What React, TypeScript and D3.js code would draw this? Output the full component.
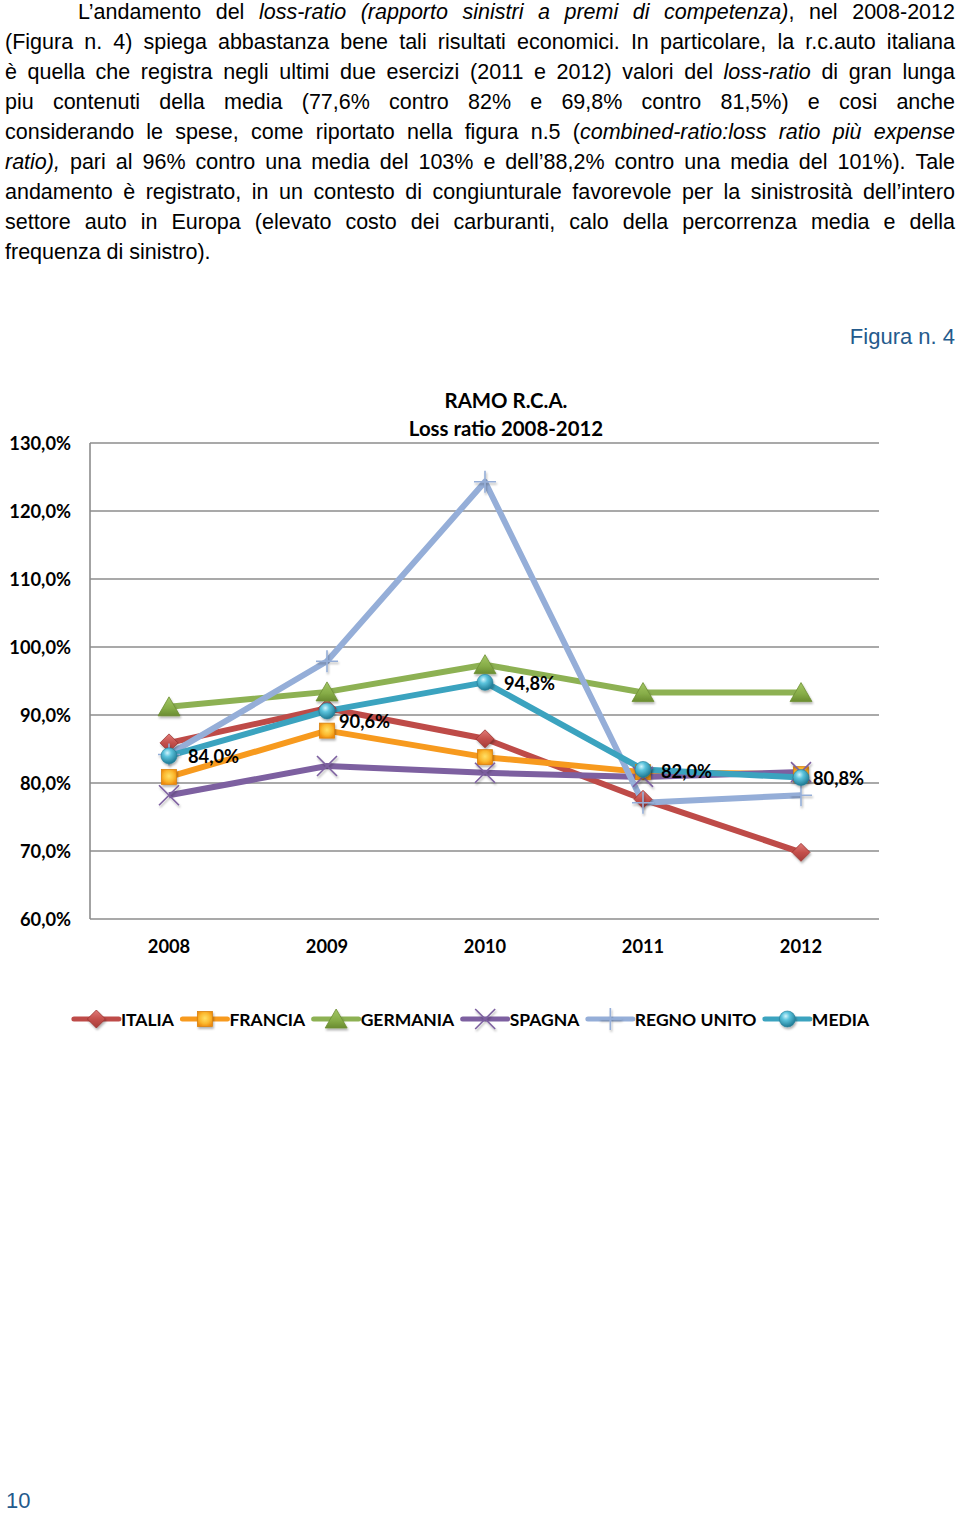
import React, { useMemo } from 'react';
import * as d3 from 'd3';

// ---------- DATA ----------
const years = ['2008', '2009', '2010', '2011', '2012'];
const italia = [0.859, 0.910, 0.865, 0.776, 0.698];
const francia = [0.809, 0.877, 0.838, 0.816, 0.813];
const germania = [0.912, 0.934, 0.974, 0.933, 0.933];
const spagna = [0.782, 0.825, 0.815, 0.809, 0.816];
const regnoUnito = [0.842, 0.979, 1.243, 0.771, 0.782];
const media = [0.840, 0.906, 0.948, 0.820, 0.808];
const mediaLabels = ['84,0%', '90,6%', '94,8%', '82,0%', '80,8%'];
const seriesNames = ['ITALIA', 'FRANCIA', 'GERMANIA', 'SPAGNA', 'REGNO UNITO', 'MEDIA'];
const yTicks = [0.6, 0.7, 0.8, 0.9, 1.0, 1.1, 1.2, 1.3];
const yTickLabels = ['60,0%', '70,0%', '80,0%', '90,0%', '100,0%', '110,0%', '120,0%', '130,0%'];
const titleLines = ['RAMO R.C.A.', 'Loss ratio 2008-2012'];
const figureLabel = 'Figura n. 4';
const pageNumber = '10';

// paragraph: segments [text, italic]
const paragraph: [string, boolean][][] = [
  [['L’andamento del ', false], ['loss-ratio (rapporto sinistri a premi di competenza)', true], [', nel 2008-2012', false]],
  [['(Figura n. 4) spiega abbastanza bene tali risultati economici. In particolare, la r.c.auto italiana', false]],
  [['è quella che registra negli ultimi due esercizi (2011 e 2012) valori del ', false], ['loss-ratio', true], [' di gran lunga', false]],
  [['piu contenuti della media (77,6% contro 82% e 69,8% contro 81,5%) e cosi anche', false]],
  [['considerando le spese, come riportato nella figura n.5 (', false], ['combined-ratio:loss ratio più expense', true]],
  [['ratio),', true], [' pari al 96% contro una media del 103% e dell’88,2% contro una media del 101%). Tale', false]],
  [['andamento è registrato, in un contesto di congiunturale favorevole per la sinistrosità dell’intero', false]],
  [['settore auto in Europa (elevato costo dei carburanti, calo della percorrenza media e della', false]],
  [['frequenza di sinistro).', false]],
];

const seriesValues = [italia, francia, germania, spagna, regnoUnito, media];

// ---------- STYLE ----------
const colors = ['#BE4B48', '#F79A1E', '#8DB153', '#7D60A0', '#95AED8', '#3BA3BF'];
const markers = ['diamond', 'square', 'triangle', 'x', 'plus', 'circle'];
const PFONT = "'Liberation Sans Narrow', 'Liberation Sans', Arial, sans-serif";
const PSIZE = 21.5;
const CFONT = "Lato, 'Open Sans', sans-serif";
const CSIZE = 18.3;

type Piece = { text: string; italic: boolean; x: number; w: number; nat: number };

function layoutParagraph() {
  const canvas = document.createElement('canvas');
  const ctx = canvas.getContext('2d')!;
  const measure = (t: string, italic: boolean) => {
    ctx.font = `${italic ? 'italic ' : ''}${PSIZE}px ${PFONT}`;
    return ctx.measureText(t).width;
  };
  const right = 955;
  const lines = paragraph.map((segs, i) => {
    const words: { text: string; italic: boolean }[][] = [];
    let cur: { text: string; italic: boolean }[] = [];
    segs.forEach(([t, it]) => {
      let buf = '';
      for (const ch of t) {
        if (ch === ' ') {
          if (buf) cur.push({ text: buf, italic: it });
          buf = '';
          if (cur.length) words.push(cur);
          cur = [];
        } else buf += ch;
      }
      if (buf) cur.push({ text: buf, italic: it });
    });
    if (cur.length) words.push(cur);
    const x0 = i === 0 ? 78 : 5;
    const widths = words.map((w) => w.reduce((s, p) => s + measure(p.text, p.italic), 0));
    return { words, widths, x0, justify: i < paragraph.length - 1 };
  });
  const space = measure(' ', false);
  let k = 1;
  lines.forEach((l) => {
    if (!l.justify) return;
    const nat = l.widths.reduce((a, b) => a + b, 0) + space * (l.words.length - 1);
    k = Math.min(k, (right - l.x0) / nat);
  });
  return lines.map((l, i) => {
    const total = l.widths.reduce((a, b) => a + b, 0) * k;
    const gap = l.justify ? (right - l.x0 - total) / (l.words.length - 1) : space * k;
    let x = l.x0;
    const pieces: Piece[] = [];
    l.words.forEach((w, wi) => {
      let px = x;
      w.forEach((p) => {
        const nat = measure(p.text, p.italic);
        pieces.push({ text: p.text, italic: p.italic, x: px, w: nat * k, nat });
        px += nat * k;
      });
      x += l.widths[wi] * k + gap;
    });
    return { pieces, y: 19.3 + 29.9 * i, k };
  });
}

function measureBold(t: string, size: number) {
  const ctx = document.createElement('canvas').getContext('2d')!;
  ctx.font = `bold ${size}px ${CFONT}`;
  return ctx.measureText(t).width;
}

function Marker({ type, x, y, color }: { type: string; x: number; y: number; color: string }) {
  const f = 'url(#shadow)';
  switch (type) {
    case 'diamond':
      return <path d={`M${x},${y - 9}L${x + 9},${y}L${x},${y + 9}L${x - 9},${y}Z`} fill="url(#gDiamond)" stroke="#9A3431" strokeWidth={0.8} filter={f} />;
    case 'square':
      return <rect x={x - 7.5} y={y - 7.5} width={15} height={15} fill="url(#gSquare)" stroke="#D98310" strokeWidth={0.8} filter={f} />;
    case 'triangle':
      return <path d={`M${x},${y - 10}L${x + 11},${y + 9}L${x - 11},${y + 9}Z`} fill="url(#gTriangle)" stroke="#6E8F35" strokeWidth={0.8} filter={f} />;
    case 'x':
      return <path d={`M${x - 10},${y - 10}L${x + 10},${y + 10}M${x - 10},${y + 10}L${x + 10},${y - 10}`} stroke={color} strokeWidth={1.6} filter={f} />;
    case 'plus':
      return <path d={`M${x - 11},${y}L${x + 11},${y}M${x},${y - 11}L${x},${y + 11}`} stroke={color} strokeWidth={1.6} filter={f} />;
    default:
      return <circle cx={x} cy={y} r={8} fill="url(#gCircle)" stroke="#247E98" strokeWidth={0.6} filter={f} />;
  }
}

export default function App() {
  const lines = useMemo(() => layoutParagraph(), []);

  const x = d3.scaleBand<string>().domain(years).range([90, 880]);
  const cx = (yr: string) => (x(yr) as number) + x.bandwidth() / 2;
  const y = d3.scaleLinear().domain([0.6, 1.3]).range([919, 443]);
  const line = d3
    .line<number>()
    .x((_, i) => cx(years[i]))
    .y((d) => y(d));

  // legend layout
  const legendFont = 17.5;
  const segLen = 45;
  const textGap = 2;
  const itemGap = 8.5;
  const tw = seriesNames.map((n) => measureBold(n, legendFont));
  const totalW = tw.reduce((s, w) => s + segLen + textGap + w, 0) + itemGap * (seriesNames.length - 1);
  let lx = 471.5 - totalW / 2;
  const legendItems = seriesNames.map((n, i) => {
    const item = { name: n, x: lx, tw: tw[i] };
    lx += segLen + textGap + tw[i] + itemGap;
    return item;
  });
  const legendY = 1019;

  const labelOffsets = [
    [19, 1],
    [12, 10],
    [19, 1],
    [18, 2],
    [12, 1],
  ];

  return (
    <svg width={960} height={1514} style={{ position: 'absolute', left: 0, top: 0, background: '#fff' }}>
      <defs>
        <filter id="shadow" x="-50%" y="-50%" width="200%" height="200%">
          <feDropShadow dx="1" dy="2" stdDeviation="1.2" floodColor="#000" floodOpacity="0.3" />
        </filter>
        <linearGradient id="gDiamond" x1="0" y1="0" x2="0" y2="1">
          <stop offset="0" stopColor="#E07B78" />
          <stop offset="0.5" stopColor="#C4504C" />
          <stop offset="1" stopColor="#A63C39" />
        </linearGradient>
        <radialGradient id="gSquare" cx="0.5" cy="0.45" r="0.6">
          <stop offset="0" stopColor="#FFE066" />
          <stop offset="0.6" stopColor="#FBB82E" />
          <stop offset="1" stopColor="#EE8A0E" />
        </radialGradient>
        <linearGradient id="gTriangle" x1="0" y1="0" x2="0" y2="1">
          <stop offset="0" stopColor="#A3C765" />
          <stop offset="0.6" stopColor="#86AC47" />
          <stop offset="1" stopColor="#6A8C30" />
        </linearGradient>
        <radialGradient id="gCircle" cx="0.4" cy="0.32" r="0.7">
          <stop offset="0" stopColor="#D2F4FC" />
          <stop offset="0.35" stopColor="#5CC4DD" />
          <stop offset="1" stopColor="#1C7791" />
        </radialGradient>
      </defs>

      {/* paragraph */}
      <g fontFamily={PFONT} fontSize={PSIZE} fill="#000">
        {lines.map((l, i) =>
          l.pieces.map((p, j) => (
            <text
              key={`${i}-${j}`}
              x={p.x}
              y={l.y}
              fontStyle={p.italic ? 'italic' : 'normal'}
              {...(l.k < 0.999 ? { textLength: p.w, lengthAdjust: 'spacingAndGlyphs' } : {})}
            >
              {p.text}
            </text>
          ))
        )}
      </g>

      <text x={955} y={344} textAnchor="end" fontFamily="'Liberation Sans', Arial, sans-serif" fontSize={22} fill="#245A8C">
        {figureLabel}
      </text>

      {/* chart */}
      <g fontFamily={CFONT} fontWeight="bold" fill="#000">
        {yTicks.map((t, i) => (
          <g key={t}>
            <line x1={90} x2={879} y1={y(t)} y2={y(t)} stroke="#8C8C8C" strokeWidth={1.6} />
            <text x={71} y={y(t) + 6.6} textAnchor="end" fontSize={CSIZE}>
              {yTickLabels[i]}
            </text>
          </g>
        ))}
        <line x1={90} x2={90} y1={y(1.3)} y2={y(0.6)} stroke="#8C8C8C" strokeWidth={1.6} />
        {years.map((yr) => (
          <text key={yr} x={cx(yr)} y={952.8} textAnchor="middle" fontSize={CSIZE}>
            {yr}
          </text>
        ))}
        <text x={506} y={408} textAnchor="middle" fontSize={20.4}>
          {titleLines[0]}
        </text>
        <text x={506} y={436} textAnchor="middle" fontSize={20.4}>
          {titleLines[1]}
        </text>

        {seriesValues.map((vals, si) => (
          <path key={si} d={line(vals) as string} fill="none" stroke={colors[si]} strokeWidth={6} strokeLinejoin="round" />
        ))}
        {seriesValues.map((vals, si) => (
          <g key={'m' + si}>
            {vals.map((v, i) => (
              <Marker key={i} type={markers[si]} x={cx(years[i])} y={y(v)} color={colors[si]} />
            ))}
          </g>
        ))}
        {media.map((v, i) => (
          <text key={'l' + i} x={cx(years[i]) + labelOffsets[i][0]} y={y(v) + labelOffsets[i][1] + 6.6} fontSize={CSIZE}>
            {mediaLabels[i]}
          </text>
        ))}

        {legendItems.map((it, i) => (
          <g key={it.name}>
            <line x1={it.x} x2={it.x + segLen} y1={legendY} y2={legendY} stroke={colors[i]} strokeWidth={5} strokeLinecap="round" />
            <Marker type={markers[i]} x={it.x + segLen / 2} y={legendY} color={colors[i]} />
            <text x={it.x + segLen + textGap} y={legendY + 6.5} fontSize={legendFont}>
              {it.name}
            </text>
          </g>
        ))}
      </g>

      <text x={6} y={1508} fontFamily="'Liberation Sans', Arial, sans-serif" fontSize={22} fill="#245A8C">
        {pageNumber}
      </text>
    </svg>
  );
}
